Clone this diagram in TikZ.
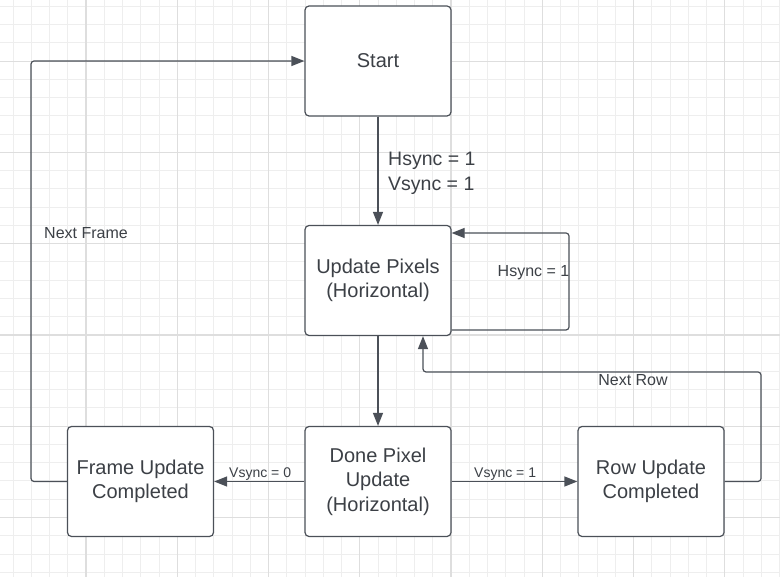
\documentclass[tikz,border=0pt]{standalone}
\usepackage{fontspec}
\setmainfont{Liberation Sans}
\usetikzlibrary{arrows.meta,calc}
\definecolor{LineClr}{HTML}{4B5058}
\definecolor{TextClr}{HTML}{3C4046}
\definecolor{GridMinor}{HTML}{EEEEEE}
\definecolor{GridMajor}{HTML}{DEDEDE}

\begin{document}
\begin{tikzpicture}[x=1pt,y=-1pt,
  state/.style={draw=LineClr,line width=1.2pt,fill=white,rounded corners=4pt,
    minimum width=146pt,minimum height=110pt,inner sep=0pt,align=center,
    text=TextClr,font=\fontsize{20}{24.5}\selectfont},
  link/.style={draw=LineClr,line width=1.2pt,rounded corners=3pt,
    -{Triangle[length=13pt,width=10pt]}},
  lbl/.style={text=TextClr,inner sep=0pt,font=\fontsize{14}{16}\selectfont}]
\useasboundingbox (0,0) rectangle (780,577);
\fill[white] (0,0) rectangle (780,577);

\foreach \i in {0,...,42} \draw[GridMinor,line width=1pt] (13+18.25*\i,0) -- (13+18.25*\i,577);
\foreach \i in {0,...,31} \draw[GridMinor,line width=1pt] (0,6.5+18.25*\i) -- (780,6.5+18.25*\i);
\foreach \i in {0,...,7} \draw[GridMajor,line width=1.2pt] (86+91.25*\i,0) -- (86+91.25*\i,577);
\foreach \i in {0,...,5} \draw[GridMajor,line width=1.2pt] (0,61.25+91.25*\i) -- (780,61.25+91.25*\i);

\node[state] (start) at (378,61) {Start};
\node[state] (upd) at (378,280.5) {Update Pixels\\(Horizontal)};
\node[state] (done) at (378,481.5) {Done Pixel\\Update\\(Horizontal)};
\node[state] (frame) at (140.5,481.5) {Frame Update\\Completed};
\node[state] (row) at (651,481.5) {Row Update\\Completed};

\draw[link] (start) -- (upd);
\draw[link] (upd) -- (done);
\draw[link] (done) -- (frame);
\draw[link] (done) -- (row);
\draw[link] (upd.east |- 0,330) -- (569,330) -- (569,233) -- (upd.east |- 0,233);
\draw[link] (row.east) -- (761,481.5) -- (761,372) -- (423,372) -- (upd.south -| 423,0);
\draw[link] (frame.west) -- (31,481.5) -- (31,61) -- (start.west);

\node[lbl,font=\fontsize{19.5}{25}\selectfont,align=left,anchor=west] (hv) at (388,173) {Hsync = 1\\Vsync = 1};
\node[lbl,font=\fontsize{16}{18}\selectfont,anchor=east] (hs) at (569.5,273) {Hsync = 1};
\node[lbl,anchor=base west] (vs0) at (229,477.5) {Vsync = 0};
\node[lbl,anchor=base west] (vs1) at (474,477.5) {Vsync = 1};
\node[lbl,font=\fontsize{16}{18}\selectfont] (nr) at (633,380) {Next Row};
\node[lbl,font=\fontsize{16}{18}\selectfont,anchor=west] (nf) at (44,233) {Next Frame};

\end{tikzpicture}
\end{document}
